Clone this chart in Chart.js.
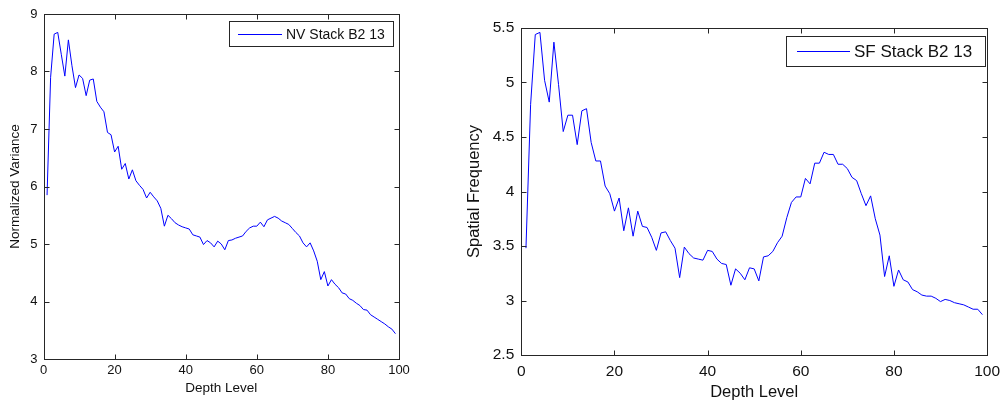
<!DOCTYPE html>
<html>
<head>
<meta charset="utf-8">
<script src="https://cdn.jsdelivr.net/npm/chart.js@4.4.1/dist/chart.umd.min.js"></script>
<style>
  body { margin: 0; background: #fff; }
  canvas { position: absolute; top: 0; }
  #nvChart { left: 0; }
  #sfChart { left: 440px; }
</style>
</head>
<body>
<canvas id="nvChart" width="440" height="403"></canvas>
<canvas id="sfChart" width="567" height="403"></canvas>
<script>
const depthLevels = [
  1, 2, 3, 4, 5, 6, 7, 8, 9, 10, 11, 12, 13, 14, 15, 16, 17, 18, 19, 20,
  21, 22, 23, 24, 25, 26, 27, 28, 29, 30, 31, 32, 33, 34, 35, 36, 37, 38, 39, 40,
  41, 42, 43, 44, 45, 46, 47, 48, 49, 50, 51, 52, 53, 54, 55, 56, 57, 58, 59, 60,
  61, 62, 63, 64, 65, 66, 67, 68, 69, 70, 71, 72, 73, 74, 75, 76, 77, 78, 79, 80,
  81, 82, 83, 84, 85, 86, 87, 88, 89, 90, 91, 92, 93, 94, 95, 96, 97, 98, 99
];

// normalized variance, left plot
const nvStack = [
  5.85, 7.90, 8.65, 8.68, 8.30, 7.92, 8.55, 8.10, 7.72, 7.94,
  7.88, 7.58, 7.85, 7.87, 7.48, 7.38, 7.30, 6.94, 6.90, 6.60,
  6.70, 6.30, 6.40, 6.13, 6.29, 6.10, 6.02, 5.95, 5.80, 5.90,
  5.82, 5.75, 5.62, 5.31, 5.50, 5.44, 5.37, 5.33, 5.30, 5.28,
  5.26, 5.16, 5.14, 5.12, 4.99, 5.06, 5.02, 4.95, 5.05, 5.00,
  4.90, 5.06, 5.07, 5.10, 5.12, 5.14, 5.22, 5.28, 5.31, 5.31,
  5.38, 5.30, 5.42, 5.45, 5.48, 5.45, 5.40, 5.37, 5.34, 5.27,
  5.20, 5.14, 5.02, 4.95, 5.02, 4.88, 4.70, 4.38, 4.52, 4.27,
  4.38, 4.30, 4.24, 4.15, 4.13, 4.05, 4.02, 3.97, 3.93, 3.86,
  3.85, 3.77, 3.73, 3.69, 3.65, 3.61, 3.56, 3.52, 3.44
];

// spatial frequency, right plot
const sfStack = [
  3.48, 4.80, 5.44, 5.46, 5.02, 4.82, 5.37, 4.98, 4.55, 4.70,
  4.70, 4.43, 4.74, 4.76, 4.45, 4.28, 4.28, 4.05, 3.98, 3.82,
  3.94, 3.64, 3.85, 3.59, 3.82, 3.68, 3.67, 3.58, 3.46, 3.62,
  3.63, 3.55, 3.48, 3.21, 3.49, 3.43, 3.39, 3.38, 3.37, 3.46,
  3.45, 3.38, 3.34, 3.33, 3.14, 3.29, 3.25, 3.19, 3.30, 3.29,
  3.18, 3.40, 3.41, 3.45, 3.53, 3.59, 3.76, 3.90, 3.95, 3.95,
  4.12, 4.07, 4.26, 4.26, 4.36, 4.34, 4.34, 4.25, 4.25, 4.21,
  4.13, 4.10, 3.98, 3.87, 3.96, 3.75, 3.60, 3.22, 3.41, 3.13,
  3.28, 3.19, 3.17, 3.10, 3.08, 3.05, 3.04, 3.04, 3.02, 2.99,
  3.01, 3.00, 2.98, 2.97, 2.96, 2.94, 2.92, 2.92, 2.87
];

const xTicks = [0, 20, 40, 60, 80, 100];
const nvTicks = [3, 4, 5, 6, 7, 8, 9];
const sfTicks = [2.5, 3, 3.5, 4, 4.5, 5, 5.5];

const FONT = '"Liberation Sans", Arial, Helvetica, sans-serif';
const AXIS_COLOR = '#262626';

// matlab style box with inward ticks and a boxed legend
const matlabBox = {
    id: 'matlabBox',
    afterDraw(chart, args, opts) {
        const { ctx, chartArea: a, scales } = chart;
        const L = Math.round(a.left) + 0.5, R = Math.round(a.right) + 0.5;
        const T = Math.round(a.top) + 0.5, B = Math.round(a.bottom) + 0.5;
        ctx.save();
        ctx.strokeStyle = AXIS_COLOR;
        ctx.lineWidth = 1;
        ctx.strokeRect(L, T, R - L, B - T);
        ctx.beginPath();
        scales.x.ticks.forEach(t => {
            const px = Math.round(scales.x.getPixelForValue(t.value)) + 0.5;
            ctx.moveTo(px, B); ctx.lineTo(px, B - opts.tick);
            ctx.moveTo(px, T); ctx.lineTo(px, T + opts.tick);
        });
        scales.y.ticks.forEach(t => {
            const py = Math.round(scales.y.getPixelForValue(t.value)) + 0.5;
            ctx.moveTo(L, py); ctx.lineTo(L + opts.tick, py);
            ctx.moveTo(R, py); ctx.lineTo(R - opts.tick, py);
        });
        ctx.stroke();

        // legend
        const lg = opts.legend;
        ctx.fillStyle = '#fff';
        ctx.fillRect(lg.x, lg.y, lg.w, lg.h);
        ctx.strokeStyle = AXIS_COLOR;
        ctx.strokeRect(lg.x + 0.5, lg.y + 0.5, lg.w, lg.h);
        const midY = Math.round(lg.y + lg.h / 2) + 0.5;
        ctx.strokeStyle = '#0000ff';
        ctx.beginPath();
        ctx.moveTo(lg.x + lg.pad, midY);
        ctx.lineTo(lg.x + lg.pad + lg.line, midY);
        ctx.stroke();
        ctx.fillStyle = '#111';
        ctx.font = lg.size + 'px ' + FONT;
        ctx.textBaseline = 'middle';
        ctx.fillText(chart.data.datasets[0].label, lg.x + lg.pad + lg.line + 4, midY + 1);
        ctx.restore();
    }
};

function makeChart(id, label, values, yTicks, cfg) {
    const ctx = document.getElementById(id).getContext('2d');
    return new Chart(ctx, {
        type: 'line',
        data: {
            datasets: [{
                label: label,
                data: depthLevels.map((d, i) => ({ x: d, y: values[i] })),
                borderColor: '#0000ff',
                borderWidth: 1,
                fill: false,
                tension: 0,
                pointRadius: 0
            }]
        },
        options: {
            responsive: false,
            animation: false,
            layout: { padding: cfg.padding },
            plugins: {
                legend: { display: false },
                tooltip: { enabled: false },
                matlabBox: { tick: 5, legend: cfg.legend }
            },
            scales: {
                x: {
                    type: 'linear',
                    min: 0,
                    max: 100,
                    afterBuildTicks: s => { s.ticks = xTicks.map(v => ({ value: v })); },
                    afterFit: s => { s.height = cfg.xHeight; },
                    grid: { display: false, drawTicks: false },
                    border: { display: false },
                    ticks: {
                        color: '#111',
                        padding: cfg.xPad,
                        maxRotation: 0,
                        font: { family: FONT, size: cfg.tickSize },
                        callback: v => String(v)
                    },
                    title: {
                        display: true,
                        text: 'Depth Level',
                        color: '#111',
                        padding: { top: 0, bottom: cfg.xTitlePad },
                        font: { family: FONT, size: cfg.titleSize }
                    }
                },
                y: {
                    min: yTicks[0],
                    max: yTicks[yTicks.length - 1],
                    afterBuildTicks: s => { s.ticks = yTicks.map(v => ({ value: v })); },
                    afterFit: s => { s.width = cfg.yWidth; },
                    grid: { display: false, drawTicks: false },
                    border: { display: false },
                    ticks: {
                        color: '#111',
                        padding: cfg.yPad,
                        font: { family: FONT, size: cfg.tickSize },
                        callback: v => String(v)
                    },
                    title: {
                        display: true,
                        text: cfg.yTitle,
                        color: '#111',
                        padding: { top: cfg.yTitlePad, bottom: 0 },
                        font: { family: FONT, size: cfg.titleSize }
                    }
                }
            }
        },
        plugins: [matlabBox]
    });
}

makeChart('nvChart', 'NV Stack B2 13', nvStack, nvTicks, {
    padding: { left: 0, top: 14, right: 41, bottom: 0 },
    xHeight: 44, yWidth: 43.5,
    tickSize: 13, titleSize: 13.5,
    xPad: 4, yPad: 6, xTitlePad: 7, yTitlePad: 7,
    yTitle: 'Normalized Variance',
    legend: { x: 229, y: 21, w: 164, h: 25, pad: 9, line: 44, size: 14 }
});

makeChart('sfChart', 'SF Stack B2 13', sfStack, sfTicks, {
    padding: { left: 0, top: 28, right: 14, bottom: 0 },
    xHeight: 48, yWidth: 81.3,
    tickSize: 15.5, titleSize: 16.5,
    xPad: 7, yPad: 7, xTitlePad: 1, yTitlePad: 25,
    yTitle: 'Spatial Frequency',
    legend: { x: 346, y: 36, w: 199, h: 30, pad: 11, line: 53, size: 17 }
});
</script>
</body>
</html>
